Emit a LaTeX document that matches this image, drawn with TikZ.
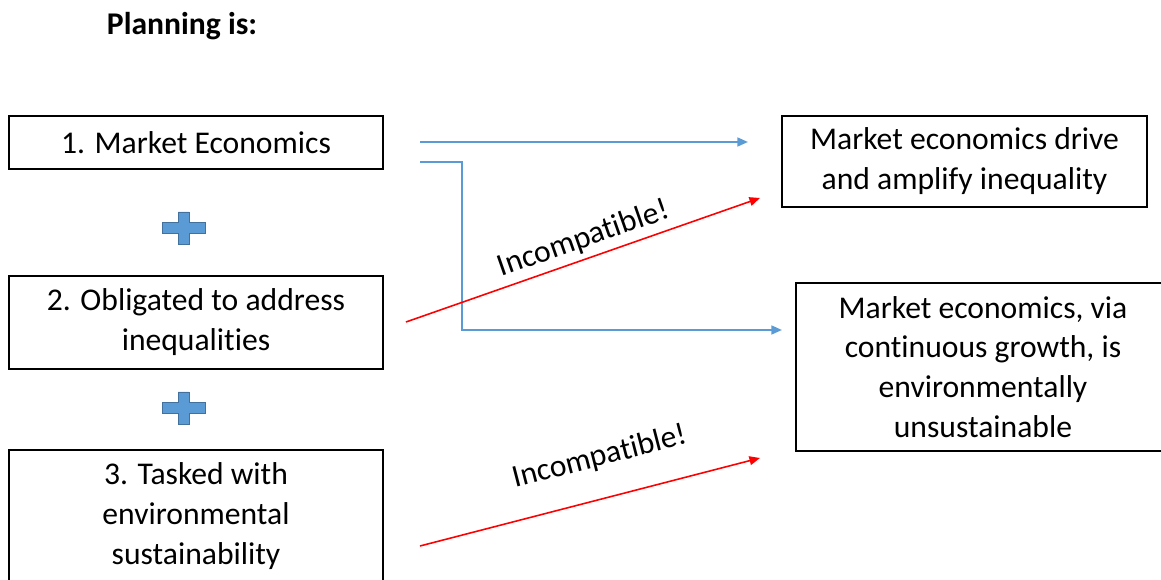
\documentclass[tikz,border=0pt]{standalone}
\usepackage{fontspec}
\setmainfont[Ligatures=NoCommon]{Carlito}
\definecolor{linkblue}{RGB}{91,155,213}
\definecolor{plusedge}{RGB}{65,113,156}
\definecolor{clashred}{RGB}{255,0,0}
\usetikzlibrary{arrows.meta, positioning, calc}

\tikzset{
  box/.style={draw=black, line width=0.8pt, align=center, inner sep=0pt,
              font=\fontsize{18}{22.7}\selectfont},
  link/.style={linkblue, line width=1.1pt, -{Triangle[length=6pt, width=5pt]}},
  clash/.style={clashred, line width=0.9pt, -{Triangle[length=6pt, width=5pt]}},
  clashlbl/.style={text=black, font=\fontsize{18}{22}\selectfont, sloped, inner sep=0pt}
}

\begin{document}
\begin{tikzpicture}[x=0.02cm, y=-0.02cm]
  \useasboundingbox (0,0) rectangle (1161,580);
  \clip (0,0) rectangle (1161,580);

  % Title
  \node[font=\fontsize{18}{22}\selectfont\bfseries] (title) at (182,26) {Planning is:};

  % Left column: what planning is asked to be
  \node[box, minimum width=7.48cm, minimum height=1.06cm] (market) at (196,142.5)
    {1. Market Economics};
  \node[box, minimum width=7.48cm, minimum height=1.86cm] (equity) at (196,322.5)
    {2. Obligated to address\\inequalities};
  \node[box, minimum width=7.48cm, minimum height=2.64cm] (green) at (196,516)
    {3. Tasked with\\environmental\\sustainability};

  % Plus signs between the boxes
  \foreach \cy in {228, 408} {
    \filldraw[fill=linkblue, draw=plusedge, line width=0.5pt]
      (178,\cy-16) -- (189,\cy-16) -- (189,\cy-5.5) -- (205,\cy-5.5)
      -- (205,\cy+5.5) -- (189,\cy+5.5) -- (189,\cy+16) -- (178,\cy+16)
      -- (178,\cy+5.5) -- (162,\cy+5.5) -- (162,\cy-5.5) -- (178,\cy-5.5) -- cycle;
  }

  % Right column: consequences
  \node[box, minimum width=7.3cm, minimum height=1.82cm] (ineq) at (964.5,161.5)
    {Market economics drive\\and amplify inequality};
  \node[box, minimum width=7.48cm, minimum height=3.36cm] (unsust) at (983,367)
    {Market economics, via\\continuous growth, is\\environmentally\\unsustainable};

  % Free ends of the connectors
  \coordinate (b1s) at (420,142);
  \coordinate (b1e) at (748,142);
  \coordinate (b2s) at (420,162);
  \coordinate (b2k) at (462,330);
  \coordinate (b2e) at (782,330);
  \coordinate (r1s) at (406,322);
  \coordinate (r1e) at (760,198);
  \coordinate (r2s) at (420,546);
  \coordinate (r2e) at (760,458);

  % Blue links
  \draw[link] (b1s) -- (b1e);
  \draw[link] (b2s) -| (b2k) -- (b2e);

  % Red clashes
  \draw[clash] (r1s) -- node[clashlbl, pos=0.52, above=3pt] (clash1) {Incompatible!} (r1e);
  \draw[clash] (r2s) -- node[clashlbl, pos=0.56, above=15pt] (clash2) {Incompatible!} (r2e);

\end{tikzpicture}
\end{document}
